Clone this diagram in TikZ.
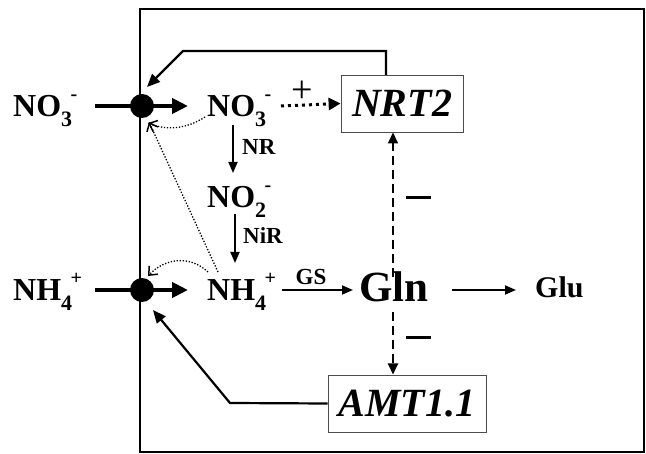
\documentclass[tikz,border=0pt]{standalone}
\usepackage{fontspec}
\setmainfont{Liberation Serif}
\usetikzlibrary{arrows.meta}
\newcommand{\spc}[3]{#1\raisebox{-0.3em}{\fontsize{22}{22}\selectfont #2}\kern-0.05em\raisebox{0.5em}{\fontsize{20}{20}\selectfont #3}}
\tikzset{
  lbl/.style={inner sep=0pt, anchor=base west, font=\bfseries\fontsize{32}{32}\selectfont},
  small/.style={inner sep=0pt, font=\bfseries\fontsize{23}{23}\selectfont},
  genebox/.style={draw=black!70, line width=0.8pt, inner sep=0pt, font=\bfseries\itshape\fontsize{40}{40}\selectfont},
  carrier/.style={circle, fill=black, minimum size=24pt, inner sep=0pt},
  thickarr/.style={line width=4.5pt, -{Triangle[length=16pt,width=15pt]}},
  thickln/.style={line width=4.5pt},
  stepar/.style={line width=1.8pt, -{Triangle[length=11pt,width=9pt]}},
  fb/.style={line width=2.2pt, -{Triangle[length=13pt,width=11pt]}},
  dotar/.style={line width=3pt, dash pattern=on 3pt off 4pt, -{Triangle[length=12pt,width=12pt]}},
  dashar/.style={line width=2pt, dash pattern=on 9pt off 5pt, -{Triangle[length=11pt,width=10pt]}},
  finedot/.style={line width=1.3pt, dash pattern=on 1.3pt off 1.7pt, -{Straight Barb[length=7pt,width=12pt,line width=1.5pt]}},
}
\begin{document}
\begin{tikzpicture}[x=1pt,y=-1pt]
\useasboundingbox (0,0) rectangle (646,454);
% cell frame
\draw[line width=2pt] (140,9) rectangle (644,452);
% nodes
\node[lbl] (nol) at (13,117) {\spc{NO}{3}{-}};
\node[lbl] (nhl) at (13,301) {\spc{NH}{4}{+}};
\node[carrier] (c1) at (142,106) {};
\node[carrier] (c2) at (142,290) {};
\node[lbl] (noi) at (207,117) {\spc{NO}{3}{-}};
\node[lbl] (no2) at (207,208) {\spc{NO}{2}{-}};
\node[lbl] (nhi) at (207,301) {\spc{NH}{4}{+}};
\node[inner sep=0pt, anchor=base west, font=\bfseries\fontsize{43}{43}\selectfont] (gln) at (359,302) {Gln};
\node[inner sep=0pt, anchor=base west, font=\bfseries\fontsize{30}{30}\selectfont] (glu) at (535,298) {Glu};
\node[genebox, minimum width=122pt, minimum height=57pt] (nrt) at (402,103.5) {NRT2};
\node[genebox, minimum width=158pt, minimum height=57pt] (amt) at (407,403.5) {AMT1.1};
% coordinates
\coordinate (l1) at (95,106);
\coordinate (r1) at (188,106);
\coordinate (l2) at (95,290);
\coordinate (r2) at (188,290);
% uptake arrows
\draw[thickln] (l1) -- (c1.center);
\draw[thickarr] (c1.center) -- (r1);
\draw[thickln] (l2) -- (c2.center);
\draw[thickarr] (c2.center) -- (r2);
% assimilation
\coordinate (nr1) at (233,125); \coordinate (nr2) at (233,173);
\draw[stepar] (nr1) -- (nr2);
\node[small, anchor=west] (nr) at (242,147) {NR};
\coordinate (ni1) at (235,214); \coordinate (ni2) at (235,263);
\draw[stepar] (ni1) -- (ni2);
\node[small, anchor=west] (nir) at (243,236) {NiR};
\coordinate (gs1) at (282,290); \coordinate (gs2) at (353,290);
\draw[stepar] (gs1) -- (gs2);
\node[small] (gs) at (311,277) {GS};
\coordinate (gl1) at (452,290); \coordinate (gl2) at (516,290);
\draw[stepar] (gl1) -- (gl2);
% induction of NRT2
\coordinate (d1) at (281,106);
\draw[dotar] (d1) -- (nrt.west);
\node[inner sep=0pt, font=\fontsize{38}{38}\selectfont] (plus) at (302,92) {+};
% Gln repression
\coordinate (g1) at (393,277); \coordinate (g2) at (393,312);
\draw[dashar] (g1) -- (393,132.5);
\draw[dashar] (g2) -- (393,374.5);
\draw[line width=3pt] (406,198) -- (431,198);
\draw[line width=3pt] (406,338) -- (431,338);
% feedback to transporters
\draw[fb] (386,75) -- (386,51) -- (183,51) -- (147,87);
\draw[fb] (amt.west) -- (230,403) -- (153,310);
% dotted regulation
\coordinate (s1) at (205,117); \coordinate (t1) at (148,123);
\draw[finedot] (s1) .. controls (185,130) and (165,130) .. (t1);
\coordinate (s2) at (218,272);
\draw[finedot] (s2) -- (149,122);
\coordinate (s3) at (208,272); \coordinate (t3) at (148,276);
\draw[finedot] (s3) .. controls (190,255) and (165,258) .. (t3);
\end{tikzpicture}
\end{document}
